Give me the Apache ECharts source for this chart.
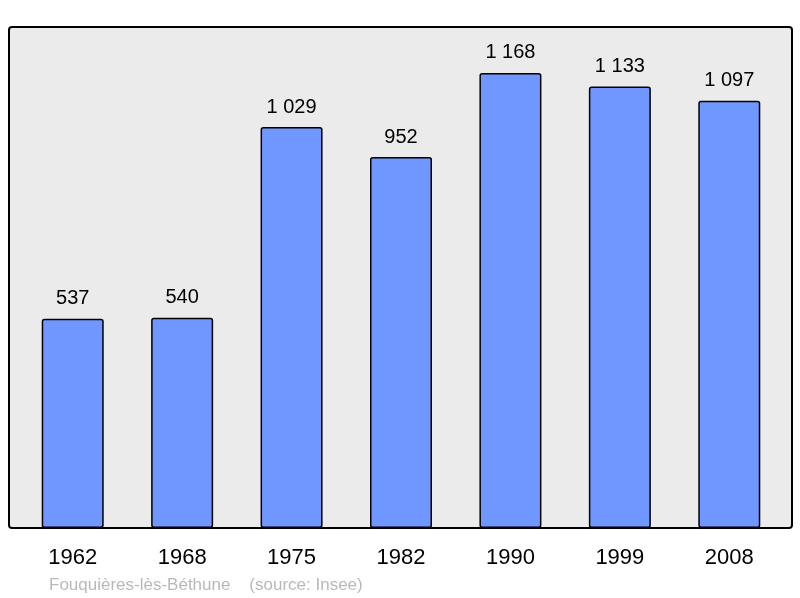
<!DOCTYPE html>
<html>
<head>
<meta charset="utf-8">
<script src="https://cdn.jsdelivr.net/npm/echarts@6/dist/echarts.min.js"></script>
<style>
  html, body { margin: 0; padding: 0; background: #fff; }
  #chart { width: 800px; height: 598px; }
</style>
</head>
<body>
<div id="chart"></div>
<script>
const years = ['1962', '1968', '1975', '1982', '1990', '1999', '2008']
const population = [537, 540, 1029, 952, 1168, 1133, 1097]
const footer = 'Fouquières-lès-Béthune    (source: Insee)'

const fmt = (v) => String(v).replace(/\B(?=(\d{3})+(?!\d))/g, ' ')

const chart = echarts.init(document.getElementById('chart'))

chart.setOption({
  animation: false,
  backgroundColor: '#fff',
  textStyle: { fontFamily: 'Liberation Sans, Arial, sans-serif' },
  graphic: [
    {
      type: 'rect',
      z: -10,
      shape: { x: 9, y: 27, width: 783, height: 501, r: 3 },
      style: { fill: '#ebebeb', stroke: '#000', lineWidth: 2 }
    },
    {
      type: 'text',
      left: 49,
      top: 577,
      style: { text: footer, fill: '#b9b9b9', font: '17px Liberation Sans, Arial, sans-serif' }
    }
  ],
  grid: { left: 18, right: 16, top: 27, bottom: 70 },
  xAxis: {
    type: 'category',
    data: years,
    axisLine: { show: false },
    axisTick: { show: false },
    axisLabel: { color: '#000', fontSize: 22, margin: 19 }
  },
  yAxis: {
    type: 'value',
    min: 0,
    max: 1286,
    show: false,
    splitLine: { show: false }
  },
  series: [{
    type: 'bar',
    data: population,
    barWidth: 62,
    itemStyle: {
      color: '#7096ff',
      borderColor: '#000',
      borderWidth: 1.5,
      borderRadius: 2
    },
    label: {
      show: true,
      position: 'top',
      distance: 10,
      color: '#000',
      fontSize: 20,
      formatter: (p) => fmt(p.value)
    }
  }]
})
</script>
</body>
</html>
